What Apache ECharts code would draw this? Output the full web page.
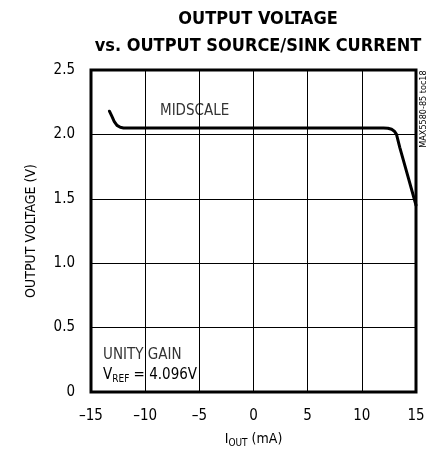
<!DOCTYPE html>
<html><head><meta charset="utf-8">
<script src="https://cdn.jsdelivr.net/npm/echarts@6/dist/echarts.min.js"></script>
<style>html,body{margin:0;padding:0;background:#fff}#c{width:436px;height:453px}</style>
</head><body><div id="c"></div>
<script>
const currentMA = [-13.3, -13.1, -12.85, -12.6, -12.3, -12.0, -11.5, -8, -4, 0, 4, 8, 11, 12.0, 12.4, 12.75, 13.0, 13.2, 13.5, 13.8, 14.3, 15.0];
const outputV  = [2.18, 2.145, 2.1, 2.07, 2.055, 2.05, 2.05, 2.05, 2.05, 2.05, 2.05, 2.05, 2.05, 2.05, 2.048, 2.04, 2.025, 2.0, 1.9, 1.81, 1.66, 1.45];
const xTicks = [-15, -10, -5, 0, 5, 10, 15];
const yTicks = [0, 0.5, 1.0, 1.5, 2.0, 2.5];
const FONT = '"DejaVu Sans Condensed", "Liberation Sans Narrow", sans-serif';
const chart = echarts.init(document.getElementById('c'), null, {renderer:'canvas'});
chart.setOption({
  animation:false,
  title:{
    text:'OUTPUT VOLTAGE\nvs. OUTPUT SOURCE/SINK CURRENT',
    left:253, top:1, textAlign:'center',
    textStyle:{fontFamily:FONT, fontWeight:'bold', fontSize:18, color:'#000', lineHeight:27}
  },
  grid:{left:91, right:20, top:70, bottom:58, show:true, borderColor:'#000', borderWidth:3},
  xAxis:{
    type:'value', min:-15, max:15, interval:5,
    axisLine:{show:false}, axisTick:{show:false},
    splitLine:{show:true, lineStyle:{color:'#000', width:1}},
    axisLabel:{fontFamily:FONT, fontSize:15, color:'#000', margin:17,
      formatter:v=>xTicks.includes(v)? String(v).replace('-', '\u2013'):''},
    name:'{a|I}{b|OUT}{a| (mA)}', nameLocation:'middle', nameGap:38,
    nameTextStyle:{rich:{a:{fontFamily:FONT,fontSize:14,color:'#000'},b:{fontFamily:FONT,fontSize:10,color:'#000',padding:[8,0,0,0]}}}
  },
  yAxis:{
    type:'value', min:0, max:2.5, interval:0.5,
    axisLine:{show:false}, axisTick:{show:false},
    splitLine:{show:true, lineStyle:{color:'#000', width:1}},
    axisLabel:{fontFamily:FONT, fontSize:15, color:'#000', margin:16,
      formatter:v=>{ if(!yTicks.some(t=>Math.abs(t-v)<1e-9)) return ''; return v===0?'0':v.toFixed(1);} },
    name:'OUTPUT VOLTAGE (V)', nameLocation:'middle', nameGap:53,
    nameTextStyle:{fontFamily:FONT, fontSize:14, color:'#000'}
  },
  series:[{
    type:'line', data:currentMA.map((x,i)=>[x, outputV[i]]), smooth:false, symbol:'none',
    lineStyle:{color:'#000', width:3, join:'round', cap:'round'}, z:5
  }],
  graphic:[
    {type:'text', left:160, top:104, style:{text:'MIDSCALE', font:'15px '+FONT, fill:'#333'}},
    {type:'text', left:103, top:348, style:{text:'UNITY GAIN', font:'15px '+FONT, fill:'#333'}},
    {type:'text', left:103, top:368, style:{
      text:'{a|V}{b|REF}{a| = 4.096V}',
      rich:{a:{fontFamily:FONT,fontSize:15,color:'#333'},b:{fontFamily:FONT,fontSize:10,color:'#333',padding:[7,0,0,0]}}}},
    {type:'text', x:424, y:109, rotation:Math.PI/2, style:{text:'MAX5580-85 toc18', font:'9px '+FONT, fill:'#000', align:'center', verticalAlign:'middle'}}
  ]
});
</script></body></html>
